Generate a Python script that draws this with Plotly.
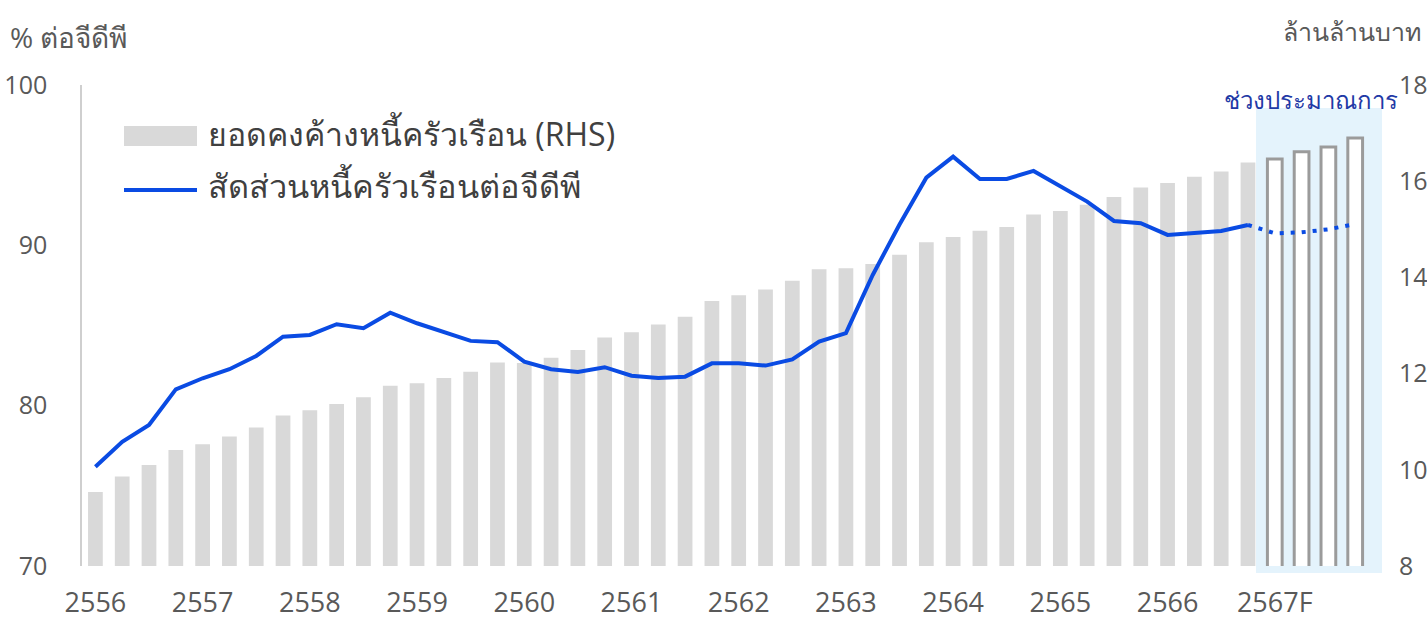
import plotly.graph_objects as go

# ---- data ----
years = ["2556", "2557", "2558", "2559", "2560", "2561", "2562", "2563",
         "2564", "2565", "2566", "2567F"]
quarters_per_year = 4

debt_outstanding = [  # ล้านล้านบาท (RHS), quarterly 2556Q1 - 2567Q4
    9.54, 9.86, 10.10, 10.41,
    10.53, 10.69, 10.88, 11.13,
    11.24, 11.37, 11.51, 11.75,
    11.80, 11.91, 12.04, 12.23,
    12.22, 12.33, 12.49, 12.75,
    12.86, 13.02, 13.18, 13.51,
    13.63, 13.75, 13.93, 14.17,
    14.19, 14.28, 14.47, 14.73,
    14.84, 14.97, 15.05, 15.31,
    15.38, 15.51, 15.67, 15.87,
    15.96, 16.09, 16.20, 16.39,
    16.46, 16.61, 16.71, 16.90,
]
n_forecast = 4

debt_to_gdp = [  # % ต่อจีดีพี, actual 2556Q1 - 2566Q4
    76.19, 77.75, 78.80, 81.02,
    81.71, 82.27, 83.10, 84.30,
    84.41, 85.08, 84.83, 85.80,
    85.14, 84.62, 84.04, 83.96,
    82.75, 82.27, 82.10, 82.40,
    81.87, 81.73, 81.81, 82.64,
    82.64, 82.50, 82.89, 84.00,
    84.52, 88.15, 91.30, 94.22,
    95.53, 94.14, 94.14, 94.64,
    93.71, 92.73, 91.52, 91.38,
    90.65, 90.75, 90.90, 91.27,
]
debt_to_gdp_forecast = [90.75, 90.81, 91.00, 91.32]  # 2567Q1 - Q4

legend_bar = "ยอดคงค้างหนี้ครัวเรือน (RHS)"
legend_line = "สัดส่วนหนี้ครัวเรือนต่อจีดีพี"
left_title = "% ต่อจีดีพี"
right_title = "ล้านล้านบาท"
forecast_label = "ช่วงประมาณการ"

# ---- build ----
FONT = "Open Sans, Noto Sans, DejaVu Sans, sans-serif"
GREY_TXT = "#595959"
BLUE = "#0a4be3"

n = len(debt_outstanding)
xs = list(range(n))
n_act = n - n_forecast

fig = go.Figure()

# actual bars
fig.add_trace(go.Bar(
    x=xs[:n_act], y=debt_outstanding[:n_act],
    marker=dict(color="#d9d9d9", line=dict(width=0)),
    width=0.55, yaxis="y", showlegend=False, hoverinfo="skip"))
# forecast bars (outlined)
fig.add_trace(go.Bar(
    x=xs[n_act:], y=debt_outstanding[n_act:],
    marker=dict(color="white", line=dict(color="#9b9b9b", width=3)),
    width=0.55, yaxis="y", showlegend=False, hoverinfo="skip"))

# actual ratio line
fig.add_trace(go.Scatter(
    x=xs[:n_act], y=debt_to_gdp, mode="lines",
    line=dict(color=BLUE, width=4), yaxis="y2", showlegend=False,
    hoverinfo="skip"))
# forecast ratio line (dotted)
fig.add_trace(go.Scatter(
    x=xs[n_act - 1:], y=[debt_to_gdp[-1]] + debt_to_gdp_forecast,
    mode="lines", line=dict(color=BLUE, width=4, dash="4px,7px"),
    yaxis="y2", showlegend=False, hoverinfo="skip"))

tickvals = [i * quarters_per_year for i in range(len(years))]

W, H = 1427, 624
L, R, T, B = 82, 45, 85, 58
pw, ph = W - L - R, H - T - B


def px_x(px):
    return (px - L) / pw


def px_y(py):
    return (H - B - py) / ph


fig.update_layout(
    width=W, height=H,
    margin=dict(l=L, r=R, t=T, b=B, autoexpand=False),
    paper_bgcolor="white", plot_bgcolor="rgba(0,0,0,0)",
    font=dict(family=FONT, color=GREY_TXT),
    xaxis=dict(
        range=[-0.5, n], tickvals=tickvals, ticktext=years,
        showgrid=False, zeroline=False, showline=False, ticks="",
        automargin=False,
        tickfont=dict(size=27, color=GREY_TXT), ticklabelstandoff=18),
    yaxis=dict(
        side="right", range=[8, 18], dtick=2, showgrid=False,
        zeroline=False, showline=False, ticks="", automargin=False,
        tickfont=dict(size=25, color=GREY_TXT), ticklabelstandoff=16),
    yaxis2=dict(
        overlaying="y", side="left", range=[70, 100], dtick=10,
        showgrid=False, zeroline=False, showline=True, automargin=False,
        linecolor="#cfcfcf", linewidth=1.5, ticks="",
        tickfont=dict(size=25, color=GREY_TXT), ticklabelstandoff=28),
    showlegend=False,
)

shapes = [
    # forecast shaded region
    dict(type="rect", xref="paper", yref="paper",
         x0=px_x(1256), x1=px_x(1382), y0=px_y(573), y1=px_y(108),
         fillcolor="#e4f3fc", line=dict(width=0), layer="below"),
    # legend symbols
    dict(type="rect", xref="paper", yref="paper",
         x0=px_x(124), x1=px_x(197), y0=px_y(146), y1=px_y(126),
         fillcolor="#d9d9d9", line=dict(width=0)),
    dict(type="line", xref="paper", yref="paper",
         x0=px_x(124), x1=px_x(197), y0=px_y(190), y1=px_y(190),
         line=dict(color=BLUE, width=4)),
]
fig.update_layout(shapes=shapes)

annos = [
    dict(text=legend_bar, x=px_x(206), y=px_y(133), xanchor="left",
         yanchor="middle", font=dict(size=32, color="#404040")),
    dict(text=legend_line, x=px_x(206), y=px_y(185), xanchor="left",
         yanchor="middle", font=dict(size=32.5, color="#404040")),
    dict(text=left_title, x=px_x(8), y=px_y(37), xanchor="left",
         yanchor="middle", font=dict(size=28, color=GREY_TXT)),
    dict(text=right_title, x=px_x(1423), y=px_y(31), xanchor="right",
         yanchor="middle", font=dict(size=25, color=GREY_TXT)),
    dict(text=forecast_label, x=px_x(1311), y=px_y(100), xanchor="center",
         yanchor="middle", font=dict(size=24, color="#1f3aa6")),
]
for a in annos:
    a.update(xref="paper", yref="paper", showarrow=False)
fig.update_layout(annotations=annos)

fig.write_html(
    "out.html",
    config={"displayModeBar": False},
    post_script="document.body.style.margin='0';"
                "document.body.style.overflow='hidden';")
